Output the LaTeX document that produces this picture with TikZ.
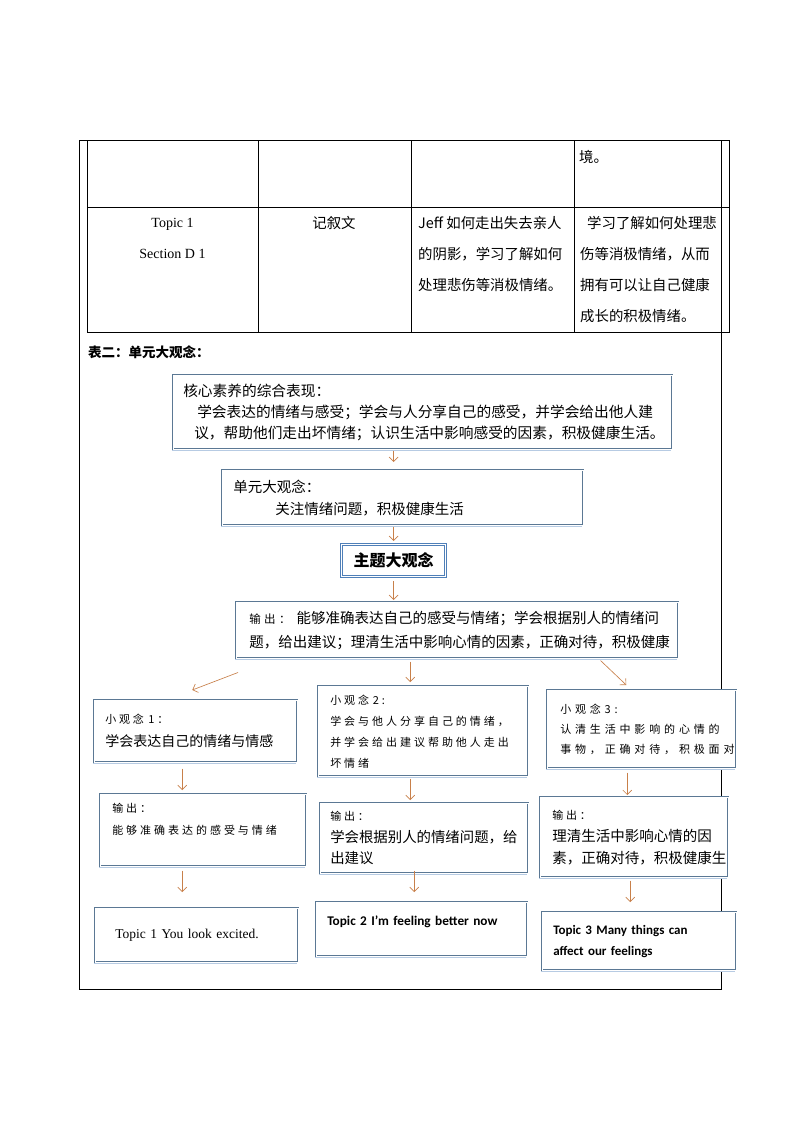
\documentclass[tikz,border=0pt]{standalone}
\usepackage{fontspec}
\setmainfont{Liberation Serif}
\newfontfamily\cjk{Noto Sans CJK SC}
\newfontfamily\calibri{Carlito}
\usepackage{tikz}
\usetikzlibrary{arrows.meta,shadows}
\definecolor{boxedge}{HTML}{5B7894}
\definecolor{boxshade}{HTML}{B7CBE3}
\definecolor{themeblue}{HTML}{4F7FB8}
\definecolor{arrbrown}{HTML}{C8804A}
\newcommand\fs[2]{\fontsize{#1}{#2}\selectfont}
\newcommand\spaced[1]{\addfontfeatures{LetterSpace=#1}}

\begin{document}
\begin{tikzpicture}[
  x=1pt, y=-1pt,
  grid/.style={line width=0.9pt},
  cell/.style={inner sep=0pt, font=\cjk\fs{14.4}{31}},
  cbox/.style={draw=boxedge, fill=white, double=white, double distance=1.2pt, line width=0.5pt,
    anchor=north west, align=left, inner ysep=2pt,
    general shadow={fill=boxshade, shadow xshift=-1.5pt, shadow yshift=-1.5pt}},
  tbox/.style={draw=themeblue, fill=white, double=white, double distance=0.8pt, line width=1.2pt,
    anchor=north west, inner sep=0pt,
    general shadow={fill=boxshade, shadow xshift=-1.5pt, shadow yshift=-1.5pt}},
  arr/.style={draw=arrbrown, line width=0.65pt, -{Straight Barb[length=4.5pt,width=9pt]}}
]
\path[use as bounding box, fill=white] (0,0) rectangle (794,1123);

% Table frame (top part of the page)
\draw[grid] (79.5,140.5) rectangle (721.5,989.5);
\draw[grid] (87,140.5) rectangle (729.5,332);
\draw[grid] (87,207) -- (729.5,207);
\foreach \x in {258,411,574} {
  \draw[grid] (\x,140.5) -- (\x,332);
}

% Table cells
\node[cell, anchor=west] (cellD) at (579,157) {境。};
\node[cell, font=\fs{14}{31}, align=center] (cellA) at (172.5,238.5) {Topic 1\\Section D 1};
\node[cell] (cellB) at (334,223) {记叙文};
\node[cell, anchor=west, align=left] (cellC) at (418,254) {Jeff 如何走出失去亲人\\的阴影，学习了解如何\\处理悲伤等消极情绪。};
\node[cell, anchor=west, align=left] (cellE) at (580,269.5) {\hspace*{7pt}学习了解如何处理悲\\伤等消极情绪，从而\\拥有可以让自己健康\\成长的积极情绪。};

% Heading
\node[anchor=west, inner sep=0pt, font=\cjk\bfseries\fs{13.5}{13.5}] (title) at (88,352) {表二：单元大观念：};

% Top chain
\node[cbox, minimum height=74pt, inner xsep=10pt, text width=479pt, font=\cjk\fs{14.7}{21}] (core) at (173,375)
  {核心素养的综合表现：\\\hspace*{14pt}学会表达的情绪与感受；学会与人分享自己的感受，并学会给出他人建\\\hspace*{11pt}议，帮助他们走出坏情绪；认识生活中影响感受的因素，积极健康生活。};
\node[cbox, minimum height=55pt, inner xsep=11pt, text width=339pt, font=\cjk\fs{14.5}{22}] (unit) at (222,470)
  {单元大观念：\\\hspace*{42pt}关注情绪问题，积极健康生活};
\node[tbox, minimum width=104pt, minimum height=32pt, font=\cjk\bfseries\fs{16}{16}] (theme) at (341,544) {主题大观念};
\node[cbox, minimum height=56pt, inner xsep=13pt, text width=416pt, font=\cjk\fs{14.5}{24}] (out) at (236,602)
  {{\fs{11.5}{24}\spaced{30}输出：}\hspace{6pt}能够准确表达自己的感受与情绪；学会根据别人的情绪问\\题，给出建议；理清生活中影响心情的因素，正确对待，积极健康};

% Small ideas
\node[cbox, minimum height=62pt, inner xsep=11pt, text width=181pt, font=\cjk\fs{14}{23}] (ideaA) at (94,700)
  {{\fs{11}{23}\spaced{25}小观念 1：}\\学会表达自己的情绪与情感};
\node[cbox, minimum height=90pt, inner xsep=12pt, text width=186pt, font=\cjk\fs{11}{21}\spaced{27}] (ideaB) at (318,686)
  {小观念 2:\\学会与他人分享自己的情绪，\\并学会给出建议帮助他人走出\\坏情绪};
\node[cbox, minimum height=78pt, inner xsep=13pt, text width=163pt, font=\cjk\fs{11}{20}\spaced{35}] (ideaC) at (547,690)
  {小观念 3:\\认清生活中影响的心情的\\事物，正确对待，积极面对};

% Outputs
\node[cbox, minimum height=72pt, inner xsep=12pt, text width=182pt, font=\cjk\fs{11}{22}\spaced{27}] (outA) at (100,794)
  {输出：\\能够准确表达的感受与情绪\\\mbox{}};
\node[cbox, minimum height=70pt, inner xsep=10pt, text width=188pt, font=\cjk\fs{14.4}{21.5}] (outB) at (320,803)
  {{\fs{11}{21.5}\spaced{25}输出：}\\学会根据别人的情绪问题，给\\出建议};
\node[cbox, minimum height=80pt, inner xsep=12pt, text width=164pt, font=\cjk\fs{14.5}{22}] (outC) at (540,797)
  {{\fs{11}{22}\spaced{25}输出：}\\理清生活中影响心情的因\\素，正确对待，积极健康生};

% Topics
\node[cbox, minimum height=54pt, inner xsep=20pt, text width=163pt, font=\fs{13.5}{16}] (topicA) at (95,908)
  {Topic 1 You look excited.};
\node[cbox, minimum height=54pt, inner xsep=11pt, text width=189pt, font=\calibri\bfseries\fs{13.3}{18}] (topicB) at (316,902)
  {Topic 2 I’m feeling better now\\\mbox{}};
\node[cbox, minimum height=58pt, inner xsep=11pt, text width=172pt, font=\calibri\bfseries\fs{13}{21}] (topicC) at (542,912)
  {Topic 3 Many things can\\affect our feelings};

% Arrows down the middle
\draw[arr, shorten <=1pt, shorten >=8pt] (core.south -| theme.north) -- (unit.north -| theme.north);
\draw[arr, shorten <=1pt, shorten >=3pt] (unit.south -| theme.north) -- (theme.north);
\draw[arr, shorten <=4pt, shorten >=2pt] (theme.south) -- (out.north -| theme.south);

% Arrows fanning out to the small ideas
\draw[arr] ([xshift=2pt, yshift=-14pt]out.south west) -- ([xshift=-3.5pt, yshift=10pt]ideaA.north);
\draw[arr, shorten <=3pt, shorten >=4pt] ([xshift=-47pt]out.south) -- ([xshift=-47pt]out.south |- ideaB.north);
\draw[arr] ([xshift=-78pt, yshift=-2pt]out.south east) -- ([xshift=-15.5pt, yshift=5pt]ideaC.north);

% Arrows in the three columns
\foreach \a/\b/\dx/\s/\e in {ideaA/outA/-13.5/6/4, ideaB/outB/-13/2/3, ideaC/outC/-14.5/4/2,
                             outA/topicA/-21/4/16, outB/topicB/-10/-3/10, outC/topicC/-4/3/10} {
  \draw[arr, shorten <=\s pt, shorten >=\e pt] ([xshift=\dx pt]\a.south) -- ([xshift=\dx pt]\a.south |- \b.north);
}

\end{tikzpicture}
\end{document}
